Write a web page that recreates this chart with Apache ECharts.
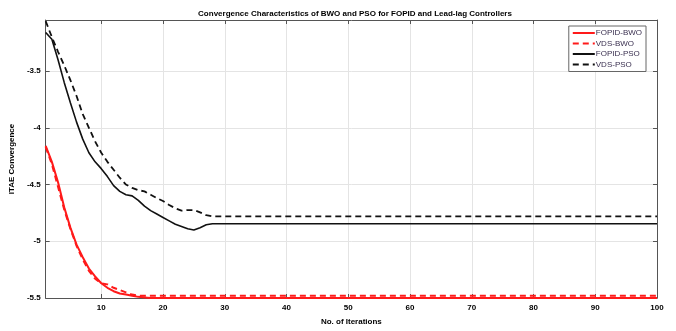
<!DOCTYPE html>
<html>
<head>
    <meta charset="utf-8">
    <title>Convergence Characteristics</title>
    <style>
        body { margin: 0; padding: 0; background: #fff; }
        #chart { width: 676px; height: 331px; }
    </style>
</head>
<body>
    <script src="https://cdn.jsdelivr.net/npm/echarts@6/dist/echarts.min.js"></script>
    <div id="chart"></div>
    <script>
        // iterations and ITAE values (flat tail ends at 100)
        const itPso = [1, 2, 3, 4, 5, 6, 7, 8, 9, 10, 11, 12, 13, 14, 15, 16, 17, 18, 19, 20, 21, 22, 23, 24, 25, 26, 27, 28, 100];
        const fopidPso = [-3.16, -3.22, -3.40, -3.60, -3.78, -3.95, -4.10, -4.22, -4.30, -4.36, -4.43, -4.51, -4.56, -4.59, -4.60, -4.64, -4.69, -4.73, -4.76, -4.79, -4.82, -4.85, -4.87, -4.89, -4.90, -4.88, -4.855, -4.845, -4.845];
        const vdsPso = [-3.06, -3.20, -3.33, -3.45, -3.58, -3.72, -3.88, -4.00, -4.12, -4.22, -4.30, -4.37, -4.44, -4.50, -4.53, -4.55, -4.56, -4.59, -4.62, -4.645, -4.68, -4.71, -4.73, -4.725, -4.725, -4.745, -4.77, -4.78, -4.78];
        const itFopidBwo = [1, 2, 3, 4, 5, 6, 7, 8, 9, 10, 11, 12, 13, 14, 15, 16, 17, 18, 19, 100];
        const fopidBwo = [-4.16, -4.30, -4.48, -4.70, -4.88, -5.03, -5.14, -5.24, -5.31, -5.37, -5.41, -5.44, -5.46, -5.47, -5.48, -5.49, -5.495, -5.5, -5.5, -5.5];
        const itVdsBwo = [1, 2, 3, 4, 5, 6, 7, 8, 9, 10, 11, 12, 13, 14, 15, 16, 100];
        const vdsBwo = [-4.17, -4.32, -4.52, -4.72, -4.89, -5.04, -5.16, -5.26, -5.33, -5.37, -5.38, -5.41, -5.43, -5.45, -5.47, -5.48, -5.48];
        const xTicks = [10, 20, 30, 40, 50, 60, 70, 80, 90, 100];
        const yTicks = [-5.5, -5, -4.5, -4, -3.5];

        const pairs = (xs, ys) => xs.map((x, i) => [x, ys[i]]);
        const font = 'Arial, "Liberation Sans", sans-serif';
        const labelStyle = { fontSize: 8, fontWeight: 'bold', color: '#000', fontFamily: font };
        const tickStyle = { lineStyle: { color: '#555' } };

        let chart = echarts.init(document.getElementById('chart'));
        chart.setOption({
            animation: false,
            backgroundColor: '#fff',
            title: {
                text: 'Convergence Characteristics of BWO and PSO for FOPID and Lead-lag Controllers',
                left: 350, top: 5, textAlign: 'center',
                textStyle: labelStyle
            },
            legend: {
                orient: 'vertical', right: 30, top: 26,
                itemWidth: 22, itemHeight: 6, itemGap: 2.5,
                padding: [3, 4, 3, 3],
                borderColor: '#666', borderWidth: 1,
                backgroundColor: '#fff',
                itemStyle: { opacity: 0 },
                textStyle: { fontSize: 8, color: '#3a3050', fontFamily: font, padding: [0, 0, 0, -4] }
            },
            grid: { left: 44, right: 19, top: 20, bottom: 28 },
            xAxis: [{
                type: 'value', min: 1, max: 100,
                name: 'No. of Iterations', nameLocation: 'middle', nameGap: 20,
                nameTextStyle: labelStyle,
                axisLine: { onZero: false, lineStyle: { color: '#555' } },
                axisTick: { inside: true, length: 4, customValues: xTicks, ...tickStyle },
                axisLabel: { ...labelStyle, margin: 6, customValues: xTicks },
                splitLine: { lineStyle: { color: '#e4e4e4' } }
            }, {
                type: 'value', min: 1, max: 100, position: 'top',
                axisLine: { onZero: false, lineStyle: { color: '#555' } },
                axisTick: { inside: true, length: 4, customValues: xTicks, ...tickStyle },
                axisLabel: { show: false },
                splitLine: { show: false }
            }],
            yAxis: [{
                type: 'value', min: -5.5, max: -3.05,
                name: 'ITAE Convergence', nameLocation: 'middle', nameGap: 25, nameRotate: 90,
                nameTextStyle: labelStyle,
                axisLine: { onZero: false, lineStyle: { color: '#555' } },
                axisTick: { inside: true, length: 4, customValues: yTicks, ...tickStyle },
                axisLabel: { ...labelStyle, margin: 5, customValues: yTicks },
                splitLine: { lineStyle: { color: '#e4e4e4' } }
            }, {
                type: 'value', min: -5.5, max: -3.05, position: 'right',
                axisLine: { show: true, onZero: false, lineStyle: { color: '#555' } },
                axisTick: { show: true, inside: true, length: 4, customValues: yTicks, ...tickStyle },
                axisLabel: { show: false },
                splitLine: { show: false }
            }],
            series: [
                {
                    name: 'FOPID-BWO', type: 'line', symbol: 'none',
                    data: pairs(itFopidBwo, fopidBwo),
                    lineStyle: { color: '#ff1a1a', width: 2 }, itemStyle: { color: '#ff1a1a' }
                },
                {
                    name: 'VDS-BWO', type: 'line', symbol: 'none',
                    data: pairs(itVdsBwo, vdsBwo),
                    lineStyle: { color: '#ff1a1a', width: 2, type: [6, 4] }, itemStyle: { color: '#ff1a1a' }
                },
                {
                    name: 'FOPID-PSO', type: 'line', symbol: 'none',
                    data: pairs(itPso, fopidPso),
                    lineStyle: { color: '#111', width: 1.6 }, itemStyle: { color: '#111' }
                },
                {
                    name: 'VDS-PSO', type: 'line', symbol: 'none',
                    data: pairs(itPso, vdsPso),
                    lineStyle: { color: '#111', width: 1.8, type: [6, 4] }, itemStyle: { color: '#111' }
                }
            ]
        });
    </script>
</body>
</html>
